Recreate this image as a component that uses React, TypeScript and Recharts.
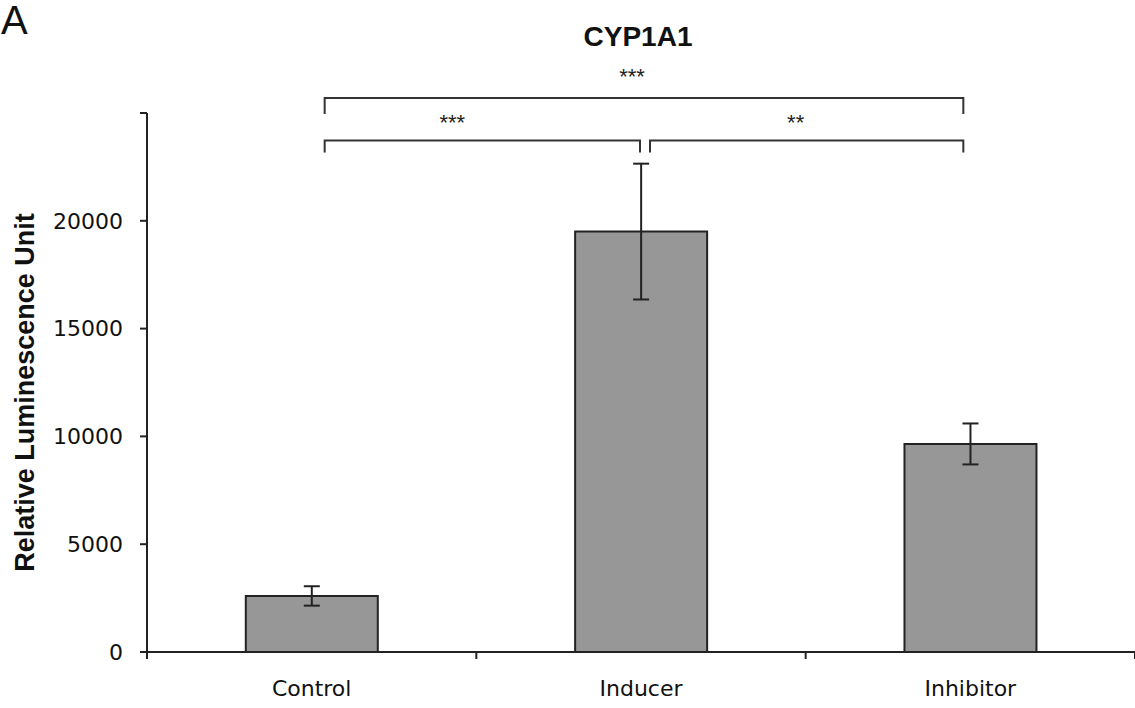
import { BarChart, Bar, XAxis, YAxis, ErrorBar, ReferenceLine } from "recharts";

const categories = ["Control", "Inducer", "Inhibitor"];
const means = [2600, 19500, 9650];
const errors = [450, 3150, 950];
const yTicks = [0, 5000, 10000, 15000, 20000, 25000];
const comparisonLabels = ["***", "***", "**"];

const data = categories.map((name, i) => ({
  name,
  value: means[i],
  err: errors[i],
}));

const FONT = "'Liberation Sans', Arial, sans-serif";
const TICK_FONT = "'DejaVu Sans', sans-serif";
const INK = "#222";

// significance brackets between categories; pixel nudges keep the Excel look
const brackets = [
  { from: "Control", to: "Inhibitor", level: 25700, dl: 13, dr: -7, drop: 16, labelDx: -12, labelDy: -21 },
  { from: "Control", to: "Inducer", level: 23730, dl: 13, dr: -1, drop: 12, labelDx: -30, labelDy: -18 },
  { from: "Inducer", to: "Inhibitor", level: 23730, dl: 9, dr: -7, drop: 12, labelDx: -11, labelDy: -18 },
];

const bracketShape = (b: (typeof brackets)[number], label: string) => (p: any) => {
  const xa = p.x1 + b.dl;
  const xb = p.x2 + b.dr;
  const y = p.y1;
  return (
    <g>
      <path
        d={`M${xa},${y + b.drop} L${xa},${y} L${xb},${y} L${xb},${y + b.drop}`}
        fill="none"
        stroke="#333"
        strokeWidth={2}
      />
      <text
        x={(xa + xb) / 2 + b.labelDx}
        y={y + b.labelDy}
        textAnchor="middle"
        dominantBaseline="central"
        fontSize={22}
        fontFamily={FONT}
        fill="#222"
      >
        {label}
      </text>
    </g>
  );
};

const CategoryTick = (props: any) => {
  const { x, y, payload, index } = props;
  const half = payload.offset ?? props.width / categories.length / 2;
  const last = index === categories.length - 1;
  return (
    <g>
      <line x1={x - half} x2={x - half} y1={y} y2={y + 7} stroke={INK} strokeWidth={2} />
      {last && <line x1={x + half} x2={x + half} y1={y} y2={y + 7} stroke={INK} strokeWidth={2} />}
      <text x={x} y={y + 44} textAnchor="middle" fontSize={22} fontFamily={TICK_FONT} fill="#111">
        {payload.value}
      </text>
    </g>
  );
};

const App = () => {
  return (
    <div style={{ position: "absolute", left: 0, top: 0, width: 1135, height: 708, background: "#fff" }}>
      <div style={{ position: "absolute", left: 1, top: 0, lineHeight: "40px", fontFamily: FONT, fontSize: 40, color: "#111" }}>A</div>
      <div
        style={{
          position: "absolute",
          left: 0,
          width: 1276,
          top: 21,
          textAlign: "center",
          fontFamily: FONT,
          fontWeight: "bold",
          fontSize: 28,
          color: "#111",
        }}
      >
        CYP1A1
      </div>
      <BarChart
        width={1135}
        height={708}
        data={data}
        margin={{ top: 113, right: 0, left: 0, bottom: 0 }}
        barCategoryGap="30%"
      >
        <XAxis
          dataKey="name"
          height={56}
          stroke={INK}
          strokeWidth={2}
          tickLine={false}
          tickSize={0}
          tickMargin={0}
          tick={<CategoryTick />}
        />
        <YAxis
          width={147}
          domain={[0, 25000]}
          ticks={yTicks}
          interval={0}
          stroke={INK}
          strokeWidth={2}
          tickSize={7}
          tickMargin={17}
          tick={{ fontSize: 22, fontFamily: TICK_FONT, fill: "#111" }}
          tickFormatter={(v: number) => (v === 25000 ? "" : String(v))}
          label={{
            content: (p: any) => {
              const cy = p.viewBox.y + p.viewBox.height / 2 + 10;
              return (
                <text
                  x={34}
                  y={cy}
                  transform={`rotate(-90, 34, ${cy})`}
                  textAnchor="middle"
                  fontSize={27}
                  fontWeight="bold"
                  fontFamily={FONT}
                  fill="#111"
                >
                  Relative Luminescence Unit
                </text>
              );
            },
          }}
        />
        <Bar dataKey="value" fill="#979797" stroke={INK} strokeWidth={2} isAnimationActive={false}>
          <ErrorBar dataKey="err" width={8} stroke={INK} strokeWidth={2} isAnimationActive={false} />
        </Bar>
        {brackets.map((b, i) => (
          <ReferenceLine
            key={i}
            ifOverflow="visible"
            segment={[
              { x: b.from, y: b.level },
              { x: b.to, y: b.level },
            ]}
            shape={bracketShape(b, comparisonLabels[i])}
          />
        ))}
      </BarChart>
    </div>
  );
};

export default App;
